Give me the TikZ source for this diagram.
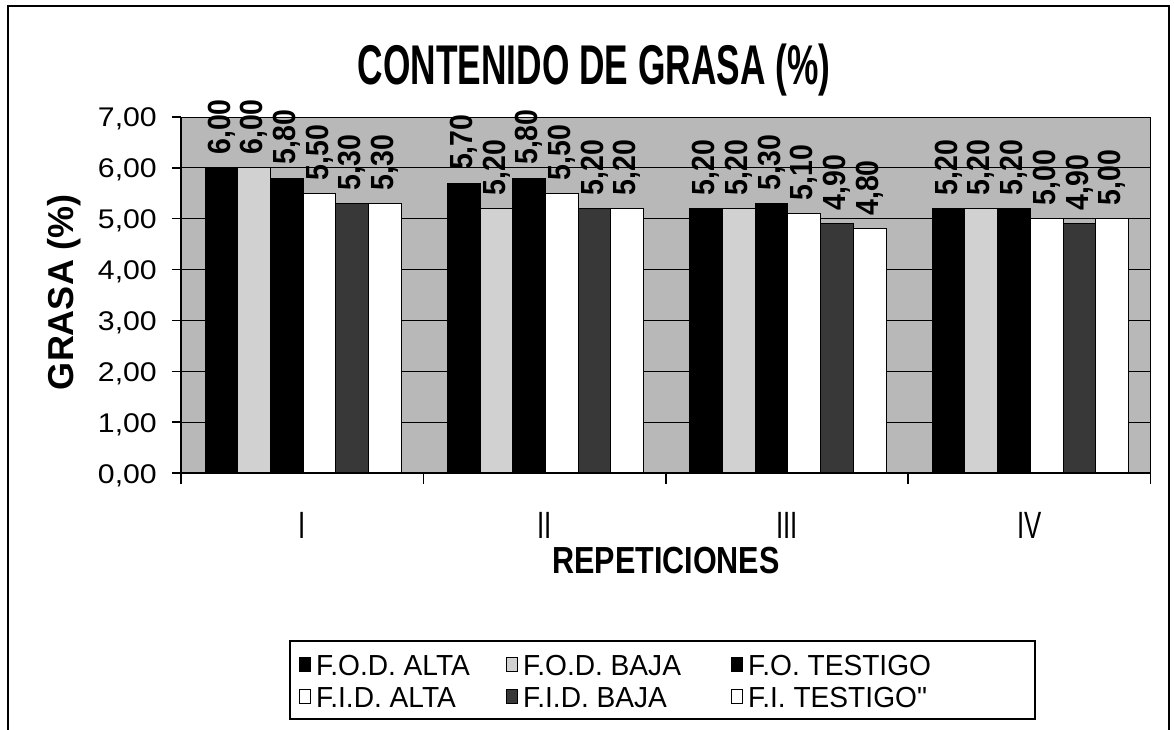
\documentclass[tikz,border=0pt]{standalone}
\usepackage{fontspec}
\setmainfont[Ligatures=TeXOff]{Liberation Sans}
\usetikzlibrary{positioning}
\definecolor{plotgrey}{gray}{0.72}
\definecolor{lightbar}{gray}{0.82}
\definecolor{darkbar}{gray}{0.22}
\tikzset{
    % bars of the chart
    bar/.style={draw=black, line width=0.9pt},
    % value written above a bar
    barlabel/.style={rotate=90, anchor=west, inner sep=0pt,
                     font=\fontsize{32}{32}\selectfont\bfseries},
    gridline/.style={draw=black, line width=0.9pt},
    axisline/.style={draw=black, line width=1.5pt},
}
\newcommand{\narrow}[2]{\scalebox{#1}[1]{#2}}

\begin{document}
\begin{tikzpicture}[x=1pt, y=-1pt]
\tikzstyle{ticklabel}=[anchor=base east, inner sep=0pt, font=\fontsize{27}{27}\selectfont]
\tikzstyle{catlabel}=[anchor=base, inner sep=0pt, font=\fontsize{38}{38}\selectfont]
\tikzstyle{legtext}=[anchor=base west, inner sep=0pt, font=\fontsize{29}{29}\selectfont]
\tikzstyle{legmark}=[draw=black, line width=0.9pt, minimum width=11pt, minimum height=14pt, inner sep=0pt]
\useasboundingbox (0,0) rectangle (1174,730);

%%%%%%%%%%%%%%%%%%%%%%%%%%%%%%%%%
% frame and title
%%%%%%%%%%%%%%%%%%%%%%%%%%%%%%%%%
\draw[line width=1.2pt] (8,735) -- (8,6) -- (1169,6) -- (1169,735);
\node[anchor=base, inner sep=0pt, font=\fontsize{56}{56}\selectfont\bfseries] (title) at (594,85)
    {\narrow{0.63}{CONTENIDO DE GRASA (\%)}};

%%%%%%%%%%%%%%%%%%%%%%%%%%%%%%%%%
% plot area
%%%%%%%%%%%%%%%%%%%%%%%%%%%%%%%%%
\fill[plotgrey] (181,117) rectangle (1150,473);
\foreach \t in {0,...,7} {
    \pgfmathsetmacro{\yy}{473-50.86*\t}
    \draw[gridline] (181,\yy) -- (1150,\yy);
    \draw[axisline] (172,\yy) -- (181,\yy);
    \node[ticklabel] (tick\t) at (157,\yy+10) {\narrow{1.12}{\t,00}};
}
\draw[gridline] (1150,117) -- (1150,473);

% bars
\foreach \vals [count=\g from 0] in {{6/00,6/00,5/80,5/50,5/30,5/30},
                                     {5/70,5/20,5/80,5/50,5/20,5/20},
                                     {5/20,5/20,5/30,5/10,4/90,4/80},
                                     {5/20,5/20,5/20,5/00,4/90,5/00}} {
    \foreach \vi/\vd [count=\k from 0] in \vals {
        \pgfmathparse{{"black","lightbar","black","white","darkbar","white"}[\k]}
        \edef\col{\pgfmathresult}
        \pgfmathsetmacro{\xa}{181+242.4*\g+24+32.7*\k}
        \pgfmathsetmacro{\xb}{\xa+32.7}
        \pgfmathsetmacro{\yt}{473-50.86*\vi.\vd}
        \draw[bar, fill=\col] (\xa,473) rectangle (\xb,\yt);
        \node[barlabel] (val\g\k) at ({\xa+16.35},{\yt-13}) {\narrow{0.89}{\vi,\vd}};
    }
}

% axes
\draw[axisline] (181,117) -- (181,473) -- (1150,473);
\foreach \g in {0,...,4}
    \draw[axisline] ({181+242.4*\g},473) -- ({181+242.4*\g},484);

\foreach \r [count=\g from 0] in {I,II,III,IV}
    \node[catlabel] (cat\g) at ({302.2+242.4*\g},538) {\narrow{0.68}{\r}};

\node[anchor=base, inner sep=0pt, font=\fontsize{37.7}{38}\selectfont\bfseries] (xlabel) at (666,573)
    {\narrow{0.81}{REPETICIONES}};
\node[rotate=90, inner sep=0pt, font=\fontsize{36}{36}\selectfont\bfseries] (ylabel) at (64,292)
    {GRASA (\%)};

%%%%%%%%%%%%%%%%%%%%%%%%%%%%%%%%%
% legend
%%%%%%%%%%%%%%%%%%%%%%%%%%%%%%%%%
\node[draw=black, line width=1.2pt, minimum width=745pt, minimum height=78pt, inner sep=0pt] (legend) at (662.5,680) {};
\foreach \lab/\col/\xx/\yy [count=\n] in {F.O.D. ALTA/black/305/664, F.O.D. BAJA/lightbar/512/664,
                                          F.O. TESTIGO/black/737/664, F.I.D. ALTA/white/305/696,
                                          F.I.D. BAJA/darkbar/512/696, F.I. TESTIGO"/white/737/696} {
    \node[legmark, fill=\col] (mark\n) at (\xx,\yy) {};
    \node[legtext] (leg\n) at (\xx+11,\yy+11) {\narrow{0.97}{\lab}};
}
\end{tikzpicture}
\end{document}
